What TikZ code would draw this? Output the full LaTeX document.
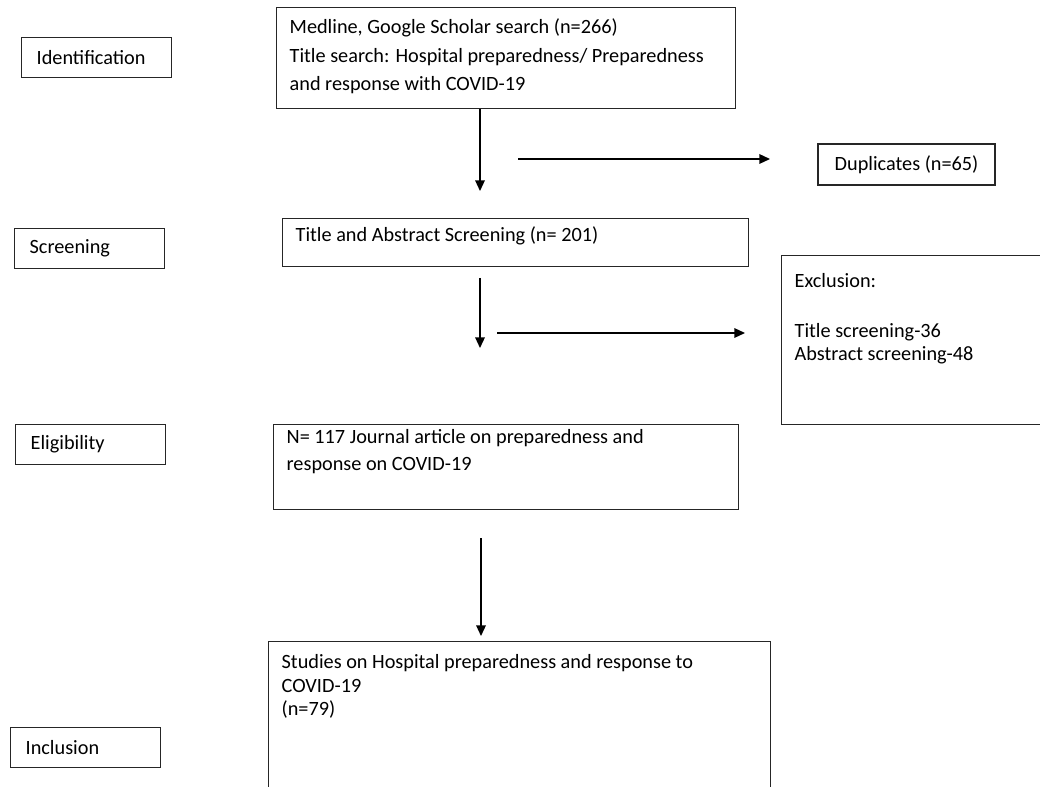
\documentclass[tikz,border=0pt]{standalone}
\usepackage{fontspec}
\setmainfont{Carlito}
\usetikzlibrary{arrows.meta}
\newlength{\pxu}
\setlength{\pxu}{0.5625pt}
% text set at the top of a box: width, height, first baseline, line distance, text
\newcommand{\boxtext}[5]{%
  \begin{minipage}[t][#2\pxu][t]{#1\pxu}%
    \fontsize{11.4pt}{13pt}\selectfont\setlength{\baselineskip}{#4\pxu}\raggedright
    \rule{0pt}{#3\pxu}#5%
  \end{minipage}}
\begin{document}
\begin{tikzpicture}[x=\pxu, y=-\pxu,
    stage/.style={draw=black!85, line width=0.75pt, anchor=north west,
      minimum width=150\pxu, minimum height=40\pxu, text width=120\pxu,
      inner xsep=15\pxu, inner ysep=0pt, align=left, font=\fontsize{11.4pt}{13pt}\selectfont},
    flow/.style={draw=black!85, line width=0.75pt, anchor=north west,
      inner xsep=13\pxu, inner ysep=0pt},
    link/.style={line width=0.8pt, -{Triangle[length=6pt, width=5.4pt]}}]
  \useasboundingbox (0,0) rectangle (1040,787);
  \clip (0,0) rectangle (1040,787);
  % Stages
  \node[stage] (ident) at (21,37) {Identification};
  \node[stage] (screen) at (14,228) {Screening};
  \node[stage] (elig) at (15,424) {Eligibility};
  \node[stage] (incl) at (10,727) {Inclusion};
  % Boxes of the flow
  \node[flow] (search) at (276,7) {\boxtext{433}{101}{26}{28.5}{Medline, Google Scholar search (n=266)\\
    Title search: Hospital preparedness/ Preparedness\\ and response with COVID-19}};
  \node[flow] (titleabs) at (282,218) {\boxtext{440}{48}{23}{26}{Title and Abstract Screening (n= 201)}};
  \node[flow] (journal) at (273,424) {\boxtext{439}{85}{19}{27}{N= 117 Journal article on preparedness and\\ response on COVID-19}};
  \node[flow] (studies) at (268,641) {\boxtext{476}{170}{27}{23.5}{Studies on Hospital preparedness and response to\\ COVID-19\\ (n=79)}};
  \node[flow, anchor=center, minimum width=177\pxu, minimum height=41\pxu,
    font=\fontsize{11.4pt}{13pt}\selectfont] (dup) at (906.5,164.5) {Duplicates (n=65)};
  \node[flow] (excl) at (781,255) {\boxtext{264}{169}{32}{23}{Exclusion:\\[27\pxu]
    Title screening-36\\ Abstract screening-48}};
  % Arrow ends
  \coordinate (a1) at (480,191);
  \coordinate (a2s) at (480,278);
  \coordinate (a2) at (480,348);
  \coordinate (a3s) at (481,538);
  \coordinate (a3) at (481,636);
  \coordinate (h1s) at (518,159);
  \coordinate (h1) at (770,159);
  \coordinate (h2s) at (497,333);
  \coordinate (h2) at (745,333);
  % Arrows
  \draw[link] (search.south -| a1) -- (a1);
  \draw[link] (a2s) -- (a2);
  \draw[link] (a3s) -- (a3);
  \draw[link] (h1s) -- (h1);
  \draw[link] (h2s) -- (h2);
\end{tikzpicture}
\end{document}
